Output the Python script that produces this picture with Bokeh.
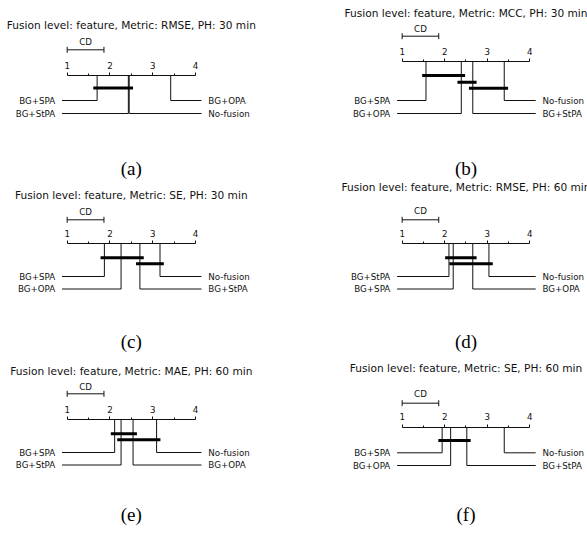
from bokeh.plotting import figure
from bokeh.models import Range1d, LinearAxis, FixedTicker, ColumnDataSource
from bokeh.layouts import column, row
from bokeh.core.properties import value
from bokeh.embed import file_html
from bokeh.resources import INLINE

# ---------------- data ----------------
CD = 0.86
titles = [
    "Fusion level: feature, Metric: RMSE, PH: 30 min",
    "Fusion level: feature, Metric: MCC, PH: 30 min",
    "Fusion level: feature, Metric: SE, PH: 30 min",
    "Fusion level: feature, Metric: RMSE, PH: 60 min",
    "Fusion level: feature, Metric: MAE, PH: 60 min",
    "Fusion level: feature, Metric: SE, PH: 60 min",
]
captions = ["(a)", "(b)", "(c)", "(d)", "(e)", "(f)"]

a_names = ["BG+SPA", "BG+StPA", "No-fusion", "BG+OPA"]
a_ranks = [1.70, 2.43, 2.45, 3.42]
a_cliques = [("BG+SPA", "No-fusion")]

b_names = ["BG+SPA", "BG+OPA", "BG+StPA", "No-fusion"]
b_ranks = [1.56, 2.39, 2.66, 3.40]
b_cliques = [("BG+SPA", "BG+OPA"), ("BG+OPA", "BG+StPA"), ("BG+StPA", "No-fusion")]

c_names = ["BG+SPA", "BG+OPA", "BG+StPA", "No-fusion"]
c_ranks = [1.87, 2.26, 2.70, 3.17]
c_cliques = [("BG+SPA", "BG+StPA"), ("BG+StPA", "No-fusion")]

d_names = ["BG+StPA", "BG+SPA", "BG+OPA", "No-fusion"]
d_ranks = [2.10, 2.20, 2.66, 3.04]
d_cliques = [("BG+StPA", "BG+OPA"), ("BG+SPA", "No-fusion")]

e_names = ["BG+SPA", "BG+StPA", "BG+OPA", "No-fusion"]
e_ranks = [2.11, 2.26, 2.54, 3.09]
e_cliques = [("BG+SPA", "BG+OPA"), ("BG+StPA", "No-fusion")]

f_names = ["BG+SPA", "BG+OPA", "BG+StPA", "No-fusion"]
f_ranks = [1.94, 2.14, 2.52, 3.40]
f_cliques = [("BG+SPA", "BG+StPA")]

tick_values = [1, 2, 3, 4]
minor_tick_values = [1.5, 2.5, 3.5]

# ---------------- layout (page pixels, vertical) ----------------
layouts = [
    dict(title=24, cdl=41.7, cdb=49.3, axis=75, cl=[87.5], lab=[100, 113], cap=168),
    dict(title=12.7, cdl=28.3, cdb=35.7, axis=61, cl=[75, 81.7, 87.7], lab=[100, 113], cap=168),
    dict(title=194, cdl=211, cdb=219.3, axis=243.3, cl=[257.3, 263.3], lab=[276, 288.5], cap=341),
    dict(title=186, cdl=210.7, cdb=219.3, axis=243.3, cl=[257.3, 263.3], lab=[276, 288.5], cap=341),
    dict(title=370, cdl=386.7, cdb=393.3, axis=419, cl=[433.3, 439.3], lab=[452, 464.5], cap=514),
    dict(title=367.7, cdl=393.3, cdb=402.7, axis=426.7, cl=[440], lab=[452.3, 465], cap=514),
]

COL_X = [0, 290]
COL_W = [290, 297]
ROW_Y = [0, 180, 352]
ROW_H = [180, 172, 181]
RANK1_PX = [66.67, 401.67]
UNIT_PX = [42.78, 42.53]

FONT = "DejaVu Sans"
INK = "#111111"


def make_panel(idx, names, ranks, cliques):
    col = idx % 2
    rw = idx // 2
    lay = layouts[idx]
    x0, w = COL_X[col], COL_W[col]
    top, h = ROW_Y[rw], ROW_H[rw]
    r1, upx = RANK1_PX[col], UNIT_PX[col]
    xs = 1 + (x0 - r1) / upx
    xe = 1 + (x0 + w - r1) / upx

    p = figure(width=w, height=h, x_range=Range1d(xs, xe), y_range=Range1d(top + h, top),
               output_backend="svg", toolbar_location=None, min_border=0,
               x_axis_type=None, y_axis_type=None, outline_line_color=None,
               background_fill_color="white", border_fill_color="white")

    ax = LinearAxis(fixed_location=lay["axis"], bounds=(1, 4),
                    ticker=FixedTicker(ticks=tick_values, minor_ticks=minor_tick_values),
                    major_tick_in=0, major_tick_out=3, minor_tick_in=0, minor_tick_out=2,
                    major_label_standoff=4, axis_line_color=INK, major_tick_line_color=INK,
                    minor_tick_line_color=INK, major_label_text_font=FONT,
                    major_label_text_font_size="8.7px", major_label_text_color=INK)
    p.add_layout(ax, "above")

    # title and caption
    p.text(x=[2.5], y=[lay["title"]], text=[titles[idx]], text_font=value(FONT),
           text_font_size="10.6px", text_align="center", text_baseline="middle", text_color=INK)
    p.text(x=[2.5], y=[lay["cap"]], text=[captions[idx]], text_font=value("Liberation Serif"),
           text_font_size="19px", text_align="center", text_baseline="middle", text_color="black")

    # CD bar
    p.segment(x0=[1], y0=[lay["cdb"]], x1=[1 + CD], y1=[lay["cdb"]], line_color=INK, line_width=1)
    p.segment(x0=[1, 1 + CD], y0=[lay["cdb"] - 3] * 2, x1=[1, 1 + CD], y1=[lay["cdb"] + 3] * 2,
              line_color=INK, line_width=1)
    p.text(x=[1 + CD / 2], y=[lay["cdl"]], text=["CD"], text_font=value(FONT),
           text_font_size="8.7px", text_align="center", text_baseline="middle", text_color=INK)

    # stems and label lines
    k = len(names)
    half = (k + 1) // 2
    sx0, sy0, sx1, sy1 = [], [], [], []
    lx, ly, lt, la = [], [], [], []
    for i, (n, r) in enumerate(zip(names, ranks)):
        if i < half:
            yy = lay["lab"][i]
            xend, xt, al = 0.88, 0.72, "right"
        else:
            yy = lay["lab"][k - 1 - i]
            xend, xt, al = 4.14, 4.30, "left"
        sx0 += [r, r]; sy0 += [lay["axis"], yy]; sx1 += [r, xend]; sy1 += [yy, yy]
        lx.append(xt); ly.append(yy); lt.append(n); la.append(al)
    p.segment(x0=sx0, y0=sy0, x1=sx1, y1=sy1, line_color=INK, line_width=1)
    src = ColumnDataSource(dict(x=lx, y=ly, t=lt, a=la))
    p.text(x="x", y="y", text="t", text_align="a", source=src, text_font=value(FONT),
           text_font_size="8.7px", text_baseline="middle", text_color=INK)

    # cliques
    rmap = dict(zip(names, ranks))
    cx0 = [rmap[a] - 0.09 for a, b in cliques]
    cx1 = [rmap[b] + 0.09 for a, b in cliques]
    cy = lay["cl"][:len(cliques)]
    p.segment(x0=cx0, y0=cy, x1=cx1, y1=cy, line_color="black", line_width=3)
    return p


panels = [
    make_panel(0, a_names, a_ranks, a_cliques),
    make_panel(1, b_names, b_ranks, b_cliques),
    make_panel(2, c_names, c_ranks, c_cliques),
    make_panel(3, d_names, d_ranks, d_cliques),
    make_panel(4, e_names, e_ranks, e_cliques),
    make_panel(5, f_names, f_ranks, f_cliques),
]

layout = column(row(panels[0], panels[1]), row(panels[2], panels[3]), row(panels[4], panels[5]))
open("out.html", "w").write(file_html(layout, INLINE))
